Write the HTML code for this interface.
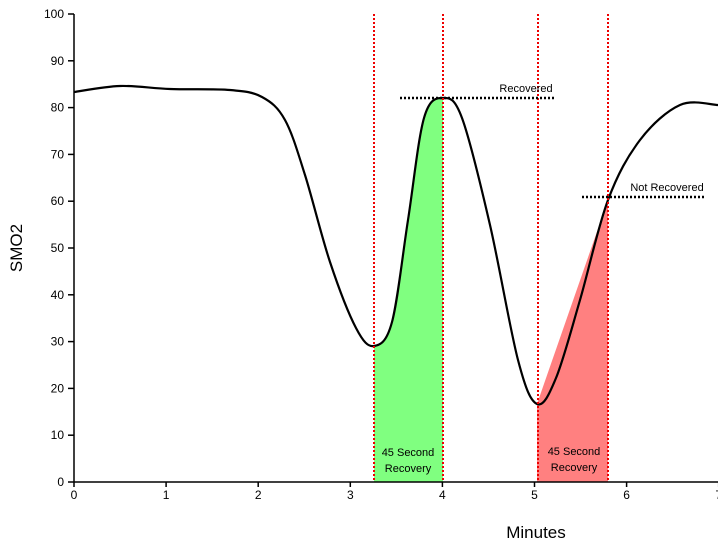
<!DOCTYPE html>
<html><head><style>
body{margin:0;background:#fff;}
svg text{font-family:"Liberation Sans",sans-serif;}
</style></head><body>
<svg id="s" width="718" height="547" xmlns="http://www.w3.org/2000/svg">
<defs>
<clipPath id="cg"><rect x="374" y="0" width="69" height="482"/></clipPath>
</defs>
<path id="gf" clip-path="url(#cg)" fill="#80ff80" d=""/>
<polygon fill="#ff8080" points="537,482 537,404 608,200 608,482"/>
<path id="ln" fill="none" stroke="#000" stroke-width="2.2" d=""/>
<g stroke="#e00" stroke-width="2" stroke-dasharray="2,2">
<line x1="374" y1="14" x2="374" y2="482"/><line x1="443" y1="14" x2="443" y2="482"/>
<line x1="538" y1="14" x2="538" y2="482"/><line x1="608" y1="14" x2="608" y2="482"/>
</g>
<g stroke="#000" stroke-width="2.5" stroke-dasharray="2,2">
<line x1="400" y1="98" x2="555" y2="98"/><line x1="582" y1="197" x2="706" y2="197"/>
</g>
<g font-size="11" fill="#000">
<text x="526" y="92" text-anchor="middle">Recovered</text>
<text x="667" y="191" text-anchor="middle">Not Recovered</text>
<text x="408" y="456" text-anchor="middle">45 Second</text>
<text x="408" y="472" text-anchor="middle">Recovery</text>
<text x="574" y="455" text-anchor="middle">45 Second</text>
<text x="574" y="471" text-anchor="middle">Recovery</text>
</g>
<g id="ax" stroke="#000" stroke-width="1.5"><line x1="74" y1="14" x2="74" y2="482"/><line x1="74" y1="482" x2="718" y2="482"/></g>
<g id="lb" font-size="12" fill="#000"></g>
<text x="536" y="538" font-size="17" text-anchor="middle">Minutes</text>
<text x="22" y="248" font-size="17" text-anchor="middle" transform="rotate(-90 22 248)">SMO2</text>
</svg>
<script>
var P=[[74,92],[120,86],[170,89],[230,90],[262,97],[285,120],[305,175],[330,262],[356,328],[374,346],[392,322],[408,220],[424,118],[443,98],[462,118],[490,225],[518,360],[537,404],[556,378],[580,300],[608,200],[640,140],[680,105],[718,105]];
function cr(p){var d="M"+p[0][0]+","+p[0][1];for(var i=0;i<p.length-1;i++){var a=p[i-1]||p[i],b=p[i],c=p[i+1],e=p[i+2]||c;
d+=" C"+(b[0]+(c[0]-a[0])/6)+","+(b[1]+(c[1]-a[1])/6)+" "+(c[0]-(e[0]-b[0])/6)+","+(c[1]-(e[1]-b[1])/6)+" "+c[0]+","+c[1];}return d;}
var d=cr(P);document.getElementById("ln").setAttribute("d",d);
document.getElementById("gf").setAttribute("d",d+" L718,482 L74,482 Z");
var ax=document.getElementById("ax"),lb=document.getElementById("lb"),ns="http://www.w3.org/2000/svg";
function el(t,a,par,txt){var e=document.createElementNS(ns,t);for(var k in a)e.setAttribute(k,a[k]);if(txt!=null)e.textContent=txt;par.appendChild(e);}
for(var v=0;v<=100;v+=10){var y=482-v*4.68;el("line",{x1:68,y1:y,x2:74,y2:y},ax);el("text",{x:64,y:y+4,"text-anchor":"end"},lb,v);}
for(var i=0;i<=7;i++){var x=74+i*92.1;el("line",{x1:x,y1:482,x2:x,y2:487},ax);el("text",{x:x,y:499,"text-anchor":"middle"},lb,i);}
</script>
</body></html>
